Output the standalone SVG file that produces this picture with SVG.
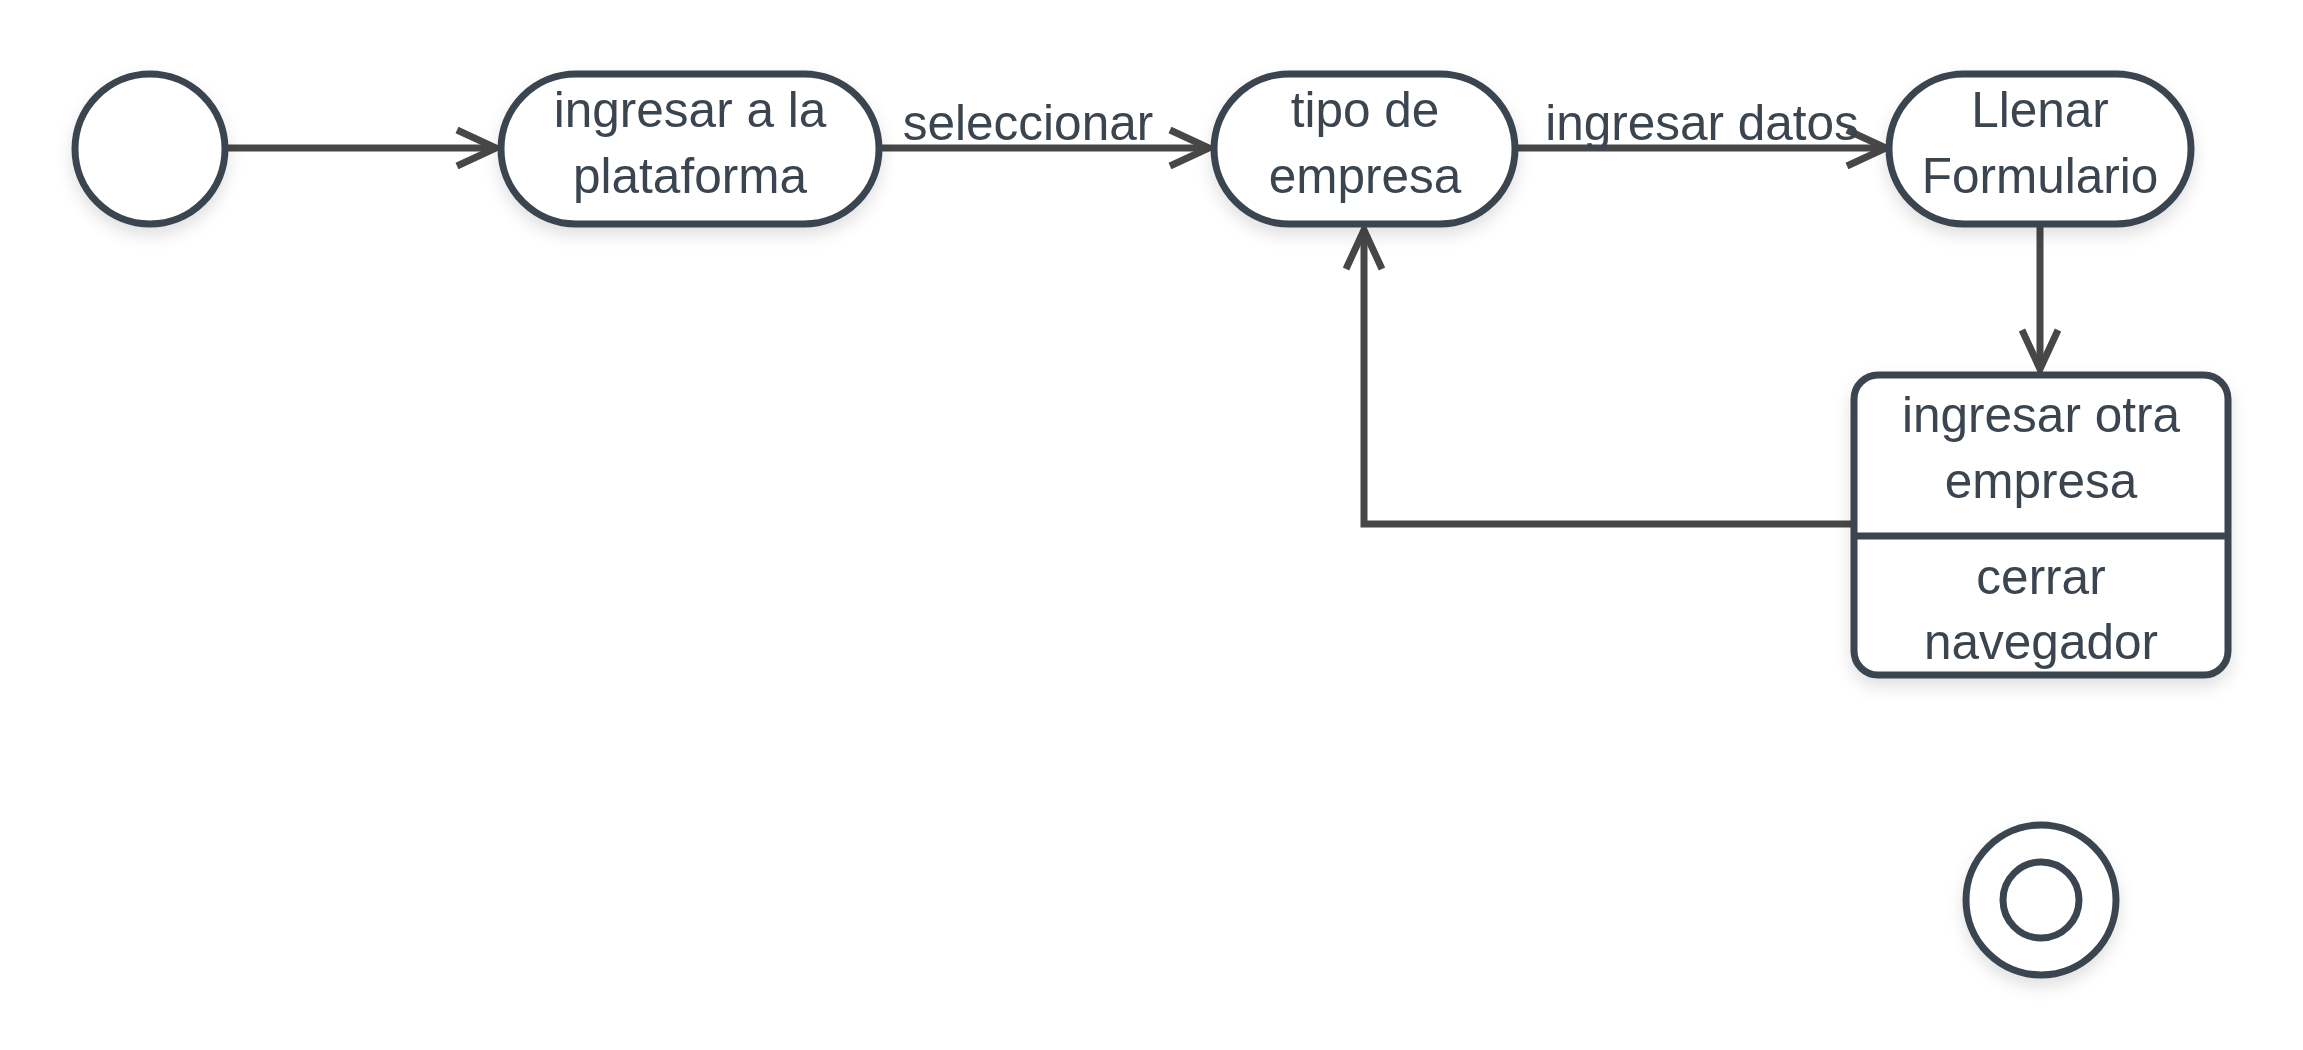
<svg xmlns="http://www.w3.org/2000/svg" width="2303" height="1050" viewBox="0 0 2303 1050">
<defs>
<filter id="sh" x="-20%" y="-20%" width="140%" height="150%">
<feDropShadow dx="0" dy="8" stdDeviation="8" flood-color="#000" flood-opacity="0.12"/>
</filter>
<marker id="arr" viewBox="0 0 50 50" refX="44" refY="25" markerWidth="50" markerHeight="50" markerUnits="userSpaceOnUse" orient="auto">
<path d="M5,7 L44,25 L5,43" fill="none" stroke="#474747" stroke-width="7"/>
</marker>
</defs>
<style>
.n{fill:#fff;stroke:#3b4550;stroke-width:7;filter:url(#sh)}
.t{font-family:"Liberation Sans",Arial,sans-serif;font-size:49.5px;fill:#3b4550;text-anchor:middle}
.c{fill:none;stroke:#474747;stroke-width:7;marker-end:url(#arr)}
</style>
<rect width="2303" height="1050" fill="#fff"/>
<g id="connectors">
<path class="c" d="M226,148 L496,148"/>
<path class="c" d="M882,148 L1209,148"/>
<path class="c" d="M1518,148 L1886,148"/>
<path class="c" d="M2040,227 L2040,369"/>
<path class="c" d="M1852,524 L1364,524 L1364,230"/>
</g>
<g id="start"><circle class="n" cx="150" cy="149" r="75"/></g>
<g id="n1"><rect class="n" x="501" y="74" width="378" height="150" rx="75"/>
<text class="t" x="690" y="127">ingresar a la</text><text class="t" x="690" y="193">plataforma</text></g>
<g id="lbl1"><text class="t" x="1028" y="140">seleccionar</text></g>
<g id="n2"><rect class="n" x="1214" y="74" width="301" height="150" rx="75"/>
<text class="t" x="1365" y="127">tipo de</text><text class="t" x="1365" y="193">empresa</text></g>
<g id="lbl2"><text class="t" x="1702" y="140">ingresar datos</text></g>
<g id="n3"><rect class="n" x="1889" y="74" width="302" height="150" rx="75"/>
<text class="t" x="2040" y="127">Llenar</text><text class="t" x="2040" y="193">Formulario</text></g>
<g id="n4"><rect class="n" x="1854" y="375" width="374" height="300" rx="24"/>
<line x1="1854" y1="536" x2="2228" y2="536" stroke="#3b4550" stroke-width="7"/>
<text class="t" x="2041" y="432">ingresar otra</text><text class="t" x="2041" y="498">empresa</text>
<text class="t" x="2041" y="594">cerrar</text><text class="t" x="2041" y="659">navegador</text></g>
<g id="end"><circle class="n" cx="2041" cy="900" r="75"/><circle cx="2041" cy="900" r="38" fill="none" stroke="#3b4550" stroke-width="7"/></g>
</svg>
